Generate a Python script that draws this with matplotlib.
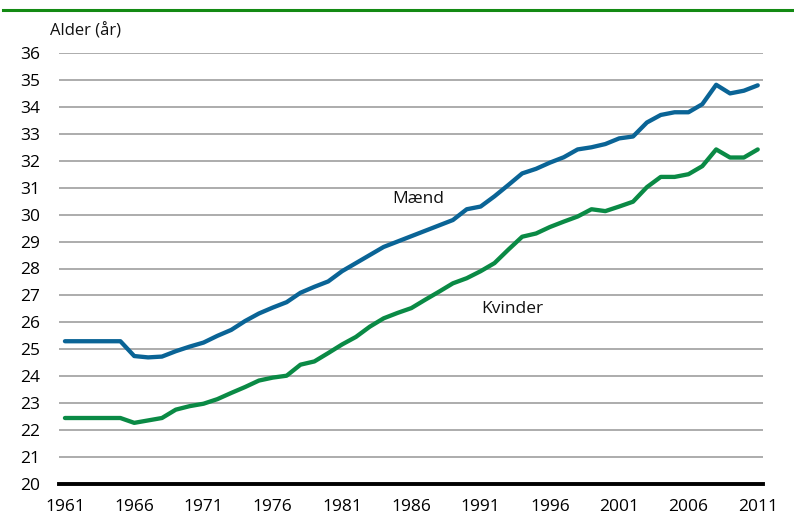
import matplotlib
matplotlib.use("Agg")
import matplotlib.pyplot as plt
from matplotlib.lines import Line2D

years = list(range(1961, 2012))
maend = [25.3, 25.3, 25.3, 25.3, 25.3, 24.75, 24.7, 24.73, 24.93, 25.1,
         25.25, 25.5, 25.72, 26.05, 26.33, 26.55, 26.75, 27.1, 27.32, 27.52,
         27.9, 28.2, 28.5, 28.8, 29.0, 29.2, 29.4, 29.6, 29.8, 30.2,
         30.3, 30.68, 31.1, 31.53, 31.7, 31.93, 32.13, 32.42, 32.5, 32.62,
         32.83, 32.9, 33.42, 33.7, 33.8, 33.8, 34.1, 34.82, 34.5, 34.6, 34.8]
kvinder = [22.45, 22.45, 22.45, 22.45, 22.45, 22.27, 22.36, 22.45, 22.76, 22.89,
           22.98, 23.15, 23.38, 23.6, 23.84, 23.95, 24.02, 24.43, 24.55, 24.86,
           25.18, 25.46, 25.84, 26.15, 26.35, 26.53, 26.84, 27.14, 27.45, 27.64,
           27.9, 28.2, 28.7, 29.18, 29.3, 29.54, 29.74, 29.93, 30.2, 30.13,
           30.3, 30.48, 31.02, 31.4, 31.4, 31.5, 31.8, 32.42, 32.12, 32.12, 32.42]
xticks = [1961, 1966, 1971, 1976, 1981, 1986, 1991, 1996, 2001, 2006, 2011]
yticks = list(range(20, 37))

plt.rcParams['font.family'] = ['Open Sans', 'DejaVu Sans']

W, H = 794, 522
fig = plt.figure(figsize=(W / 100, H / 100), dpi=100)
ax = fig.add_axes([59 / W, 1 - 484 / H, (763 - 59) / W, (484 - 53) / H])

blue = '#0a6496'
green = '#0a8a45'

for y in yticks[1:]:
    ax.axhline(y, color='#a6a6a6', lw=1.3, zorder=1)

ax.plot(years, maend, color=blue, lw=3.1, solid_capstyle='round', solid_joinstyle='round', zorder=3)
ax.plot(years, kvinder, color=green, lw=3.1, solid_capstyle='round', solid_joinstyle='round', zorder=3)

ax.set_xlim(1960.57, 2011.38)
ax.set_ylim(20, 36)
ax.set_xticks(xticks)
ax.set_xticklabels([str(x) for x in xticks], fontsize=12.5)
ax.set_yticks(yticks)
ax.set_yticklabels([str(y) for y in yticks], fontsize=12.5)
ax.tick_params(axis='both', length=0)
ax.tick_params(axis='y', pad=13.5)
ax.tick_params(axis='x', pad=11)
for s in ['top', 'right', 'left']:
    ax.spines[s].set_visible(False)
ax.spines['bottom'].set_linewidth(2.8)
ax.spines['bottom'].set_color('black')
ax.spines['bottom'].set_zorder(4)

ax.text(1986.5, 30.58, 'Mænd', fontsize=12.5, ha='center', va='center', color='#111111')
ax.text(1993.3, 26.5, 'Kvinder', fontsize=12.5, ha='center', va='center', color='#111111')

fig.text(50 / W, 1 - 31 / H, 'Alder (år)', fontsize=12, ha='left', va='center', color='#111111')
fig.add_artist(Line2D([3 / W, 1], [1 - 10 / H, 1 - 10 / H], color='#138a13', lw=2.2))

fig.savefig('out.png', dpi=100)
